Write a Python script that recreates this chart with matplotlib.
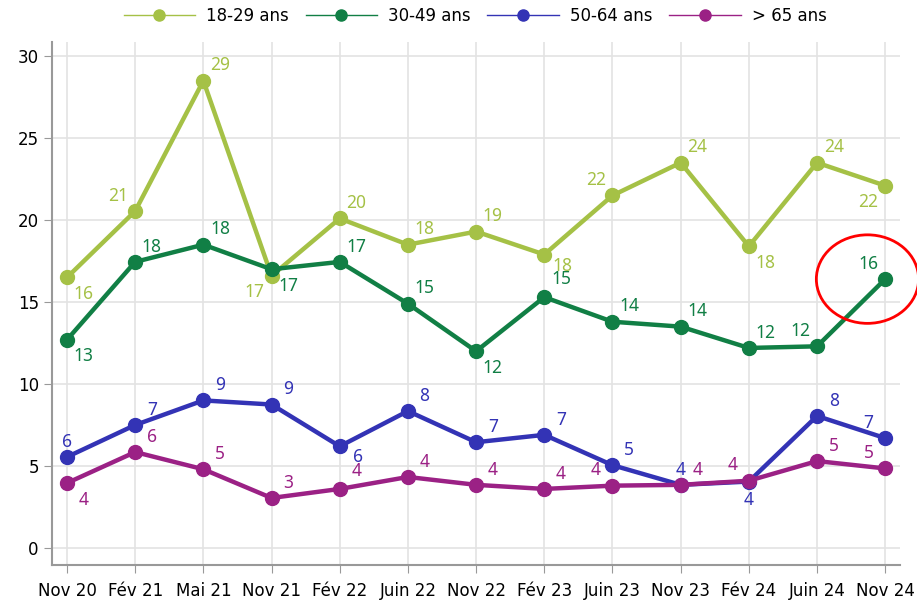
import matplotlib
matplotlib.use('Agg')
import matplotlib.pyplot as plt
from matplotlib.patches import Ellipse

periods = ['Nov 20', 'Fév 21', 'Mai 21', 'Nov 21', 'Fév 22', 'Juin 22', 'Nov 22',
           'Fév 23', 'Juin 23', 'Nov 23', 'Fév 24', 'Juin 24', 'Nov 24']

age_18_29 = [16.5, 20.55, 28.5, 16.6, 20.1, 18.5, 19.3, 17.9, 21.5, 23.5, 18.4, 23.5, 22.1]
age_30_49 = [12.7, 17.45, 18.5, 17.0, 17.45, 14.9, 12.0, 15.3, 13.8, 13.5, 12.2, 12.3, 16.4]
age_50_64 = [5.55, 7.5, 9.0, 8.75, 6.2, 8.35, 6.45, 6.9, 5.05, 3.85, 4.05, 8.05, 6.7]
age_65 = [3.96, 5.85, 4.8, 3.05, 3.6, 4.33, 3.85, 3.6, 3.8, 3.85, 4.1, 5.3, 4.85]

labels_18_29 = [16, 21, 29, 17, 20, 18, 19, 18, 22, 24, 18, 24, 22]
labels_30_49 = [13, 18, 18, 17, 17, 15, 12, 15, 14, 14, 12, 12, 16]
labels_50_64 = [6, 7, 9, 9, 6, 8, 7, 7, 5, 4, 4, 8, 7]
labels_65 = [4, 6, 5, 3, 4, 4, 4, 4, 4, 4, 4, 5, 5]

# label placement: ur=up right, ul=up left, dr=down right, dl=down left, u=up, d=down
# (the "2" variants sit a little closer to / further from the point to limit overlaps)
pos_18_29 = ['dr', 'ul', 'ur', 'dl', 'ur', 'ur', 'ur', 'dr2', 'ul', 'ur', 'dr', 'ur', 'dl']
pos_30_49 = ['dr', 'ur', 'ur', 'dr', 'ur', 'ur', 'dr', 'ur2', 'ur', 'ur', 'ur', 'ul', 'ul']
pos_50_64 = ['u', 'ur', 'ur', 'ur', 'dr2', 'ur', 'ur', 'ur', 'ur', 'u', 'd', 'ur', 'ul']
pos_65 = ['dr', 'ur', 'ur', 'ur', 'ur2', 'ur', 'ur', 'ur', 'ul', 'ur', 'ul', 'ur', 'ul']

series = [
    ('18-29 ans', age_18_29, labels_18_29, pos_18_29, '#a5c146'),
    ('30-49 ans', age_30_49, labels_30_49, pos_30_49, '#117f45'),
    ('50-64 ans', age_50_64, labels_50_64, pos_50_64, '#3333b5'),
    ('> 65 ans', age_65, labels_65, pos_65, '#9b2185'),
]

offsets = {'ur': (12, 11), 'ul': (-12, 11),
           'dr': (12, -12), 'dl': (-12, -12),
           'u': (0, 11), 'd': (0, -13),
           'dr2': (13, -8), 'ur2': (12, 13)}

fig = plt.figure(figsize=(9.17, 6.03), dpi=100)
ax = fig.add_axes([0.0567, 0.063, 0.925, 0.867])

x = list(range(len(periods)))
handles = []
for name, vals, labs, pos, col in series:
    ax.plot(x, vals, color=col, lw=3.2, marker='o', ms=10, zorder=3)
    h, = plt.plot([], [], color=col, lw=1, marker='o', ms=8, label=name)
    handles.append(h)
    for xi, v, lab, p in zip(x, vals, labs, pos):
        dx, dy = offsets[p]
        ax.annotate(str(lab), (xi, v), xytext=(dx, dy), textcoords='offset points',
                    ha='center', va='center', color=col, fontsize=12.5,
                    family='Noto Sans', zorder=4)

ax.add_patch(Ellipse((11.74, 16.4), 1.5, 5.4, fill=False, edgecolor='red', lw=2,
                     zorder=5, clip_on=False))

ax.set_xlim(-0.22, 12.22)
ax.set_ylim(-1.04, 30.85)
ax.set_xticks(x)
ax.set_xticklabels(periods)
ax.set_yticks([0, 5, 10, 15, 20, 25, 30])
ax.grid(True, color='#e3e3e3', lw=1.2)
ax.set_axisbelow(True)
for s in ['top', 'right']:
    ax.spines[s].set_visible(False)
for s in ['left', 'bottom']:
    ax.spines[s].set_color('#999999')
    ax.spines[s].set_linewidth(1.5)
ax.tick_params(axis='both', colors='#999999', labelcolor='black', labelsize=12, length=6)
ax.tick_params(axis='x', pad=6)

fig.legend(handles=handles, loc='upper center', bbox_to_anchor=(0.518, 1.013), ncol=4,
           frameon=False, fontsize=12, handlelength=4.3, columnspacing=1.0,
           handletextpad=0.65)

fig.savefig('out.png', dpi=100)
